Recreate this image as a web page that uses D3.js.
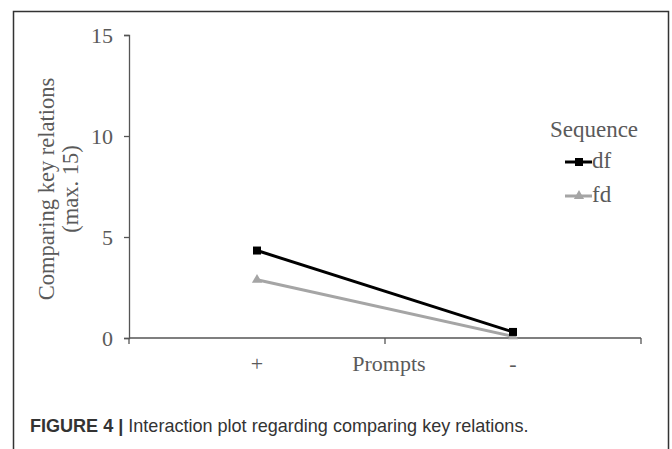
<!DOCTYPE html>
<html>
<head>
<meta charset="utf-8">
<script src="https://cdn.jsdelivr.net/npm/d3@7"></script>
<style>
  body { margin: 0; background: #fff; }
  svg { display: block; }
</style>
</head>
<body>
<div id="chart"></div>
<script>
// data
const prompts = ['+', '-'];
const seqNames = ['df', 'fd'];
const dfValues = [4.33, 0.30];
const fdValues = [2.88, 0.08];
const yTicks = [0, 5, 10, 15];

const width = 672, height = 449;
const serif = '"Liberation Serif", "Times New Roman", serif';
const textGray = '#5a5a5a';

var svg = d3.select('#chart').append('svg')
  .attr('width', width)
  .attr('height', height);

// outer frame (open at the bottom)
svg.append('path')
  .attr('d', 'M13.5,' + height + 'V11.5H668.5V' + height)
  .attr('fill', 'none')
  .attr('stroke', '#333')
  .attr('stroke-width', 1.5);

var xScale = d3.scaleBand()
  .domain(prompts)
  .range([129, 641]);

var yScale = d3.scaleLinear()
  .domain([0, 15])
  .range([338, 35]);

// x axis: ticks sit at band edges, pointing down
var xAxis = svg.append('g').attr('transform', 'translate(0,338)');
xAxis.append('line')
  .attr('x1', 129).attr('x2', 641)
  .attr('stroke', '#555').attr('stroke-width', 1.3);
var edges = prompts.map(p => xScale(p)).concat([xScale.range()[1]]);
xAxis.selectAll('.xt').data(edges).enter().append('line')
  .attr('x1', d => d).attr('x2', d => d)
  .attr('y1', 0).attr('y2', 6)
  .attr('stroke', '#555').attr('stroke-width', 1.3);
xAxis.selectAll('.xl').data(prompts).enter().append('text')
  .attr('x', d => xScale(d) + xScale.bandwidth() / 2)
  .attr('y', 33)
  .attr('text-anchor', 'middle')
  .attr('font-family', serif)
  .attr('font-size', 22)
  .attr('fill', textGray)
  .text(d => d);

svg.append('text')
  .attr('x', 389)
  .attr('y', 371)
  .attr('text-anchor', 'middle')
  .attr('font-family', serif)
  .attr('font-size', 22)
  .attr('fill', textGray)
  .text('Prompts');

// y axis
var yAxis = svg.append('g').attr('transform', 'translate(129,0)')
  .call(d3.axisLeft(yScale).tickValues(yTicks).tickSize(5).tickPadding(11));
yAxis.select('.domain').attr('stroke', '#555').attr('stroke-width', 1.3);
yAxis.selectAll('.tick line').attr('stroke', '#555').attr('stroke-width', 1.3);
yAxis.selectAll('.tick text')
  .attr('font-family', serif)
  .attr('font-size', 22)
  .attr('fill', textGray);

var yTitle = svg.append('text')
  .attr('transform', 'translate(54,189) rotate(-90)')
  .attr('text-anchor', 'middle')
  .attr('font-family', serif)
  .attr('font-size', 22.5)
  .attr('fill', textGray);
yTitle.append('tspan').attr('x', 0).attr('dy', 0).text('Comparing key relations');
yTitle.append('tspan').attr('x', 0).attr('dy', 24).text('(max. 15)');

// series
var series = [
  { name: seqNames[0], values: dfValues, color: '#000', marker: 'square' },
  { name: seqNames[1], values: fdValues, color: '#a5a5a5', marker: 'triangle' }
];

function symbolFor(s) {
  return d3.symbol()
    .type(s.marker === 'square' ? d3.symbolSquare : d3.symbolTriangle)
    .size(s.marker === 'square' ? 64 : 45);
}

var line = d3.line()
  .x((d, i) => xScale(prompts[i]) + xScale.bandwidth() / 2)
  .y(d => yScale(d));

series.slice().reverse().forEach(function(s) {
  svg.append('path')
    .datum(s.values)
    .attr('d', line)
    .attr('fill', 'none')
    .attr('stroke', s.color)
    .attr('stroke-width', 3);
  svg.selectAll(null).data(s.values).enter().append('path')
    .attr('transform', (d, i) => 'translate(' + (xScale(prompts[i]) + xScale.bandwidth() / 2) + ',' + yScale(d) + ')')
    .attr('d', symbolFor(s))
    .attr('fill', s.color);
});

// legend
var legend = svg.append('g');
legend.append('text')
  .attr('x', 594).attr('y', 137)
  .attr('text-anchor', 'middle')
  .attr('font-family', serif)
  .attr('font-size', 23)
  .attr('fill', textGray)
  .text('Sequence');
series.forEach(function(s, i) {
  var ly = 162 + i * 34;
  legend.append('line')
    .attr('x1', 565).attr('x2', 592)
    .attr('y1', ly).attr('y2', ly)
    .attr('stroke', s.color).attr('stroke-width', 3);
  legend.append('path')
    .attr('transform', 'translate(579,' + ly + ')')
    .attr('d', symbolFor(s))
    .attr('fill', s.color);
  legend.append('text')
    .attr('x', 592).attr('y', ly + 6)
    .attr('font-family', serif)
    .attr('font-size', 23)
    .attr('fill', textGray)
    .text(s.name);
});

// caption, squeezed to the width of the original
var cap = svg.append('text')
  .attr('x', 0).attr('y', 0)
  .attr('font-family', '"Liberation Sans", Arial, sans-serif')
  .attr('font-size', 19)
  .attr('fill', '#333');
cap.append('tspan').attr('font-weight', 'bold').text('FIGURE 4 | ');
cap.append('tspan').text('Interaction plot regarding comparing key relations.');
var capW = cap.node().getComputedTextLength();
cap.attr('transform', 'translate(30,432) scale(' + (499 / capW) + ',1)');
</script>
</body>
</html>
